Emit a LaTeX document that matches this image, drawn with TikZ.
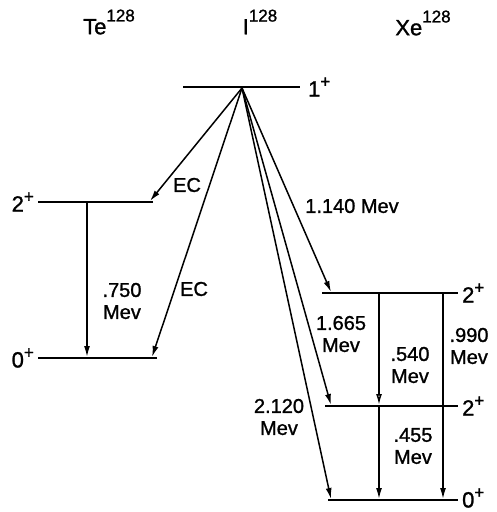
\documentclass[tikz,border=0pt]{standalone}
\usepackage{fontspec}
\setmainfont[FakeBold=1.2]{Liberation Sans}
\usepackage{tikz}
\usetikzlibrary{arrows.meta,positioning,calc}
\newcommand{\nuclide}[2]{#1\raisebox{1.1ex}{\fontsize{17}{17}\selectfont #2}}
\newcommand{\spinlab}[2]{#1\raisebox{0.8ex}{\fontsize{17}{17}\selectfont #2}}

\begin{document}
\begin{tikzpicture}[x=1pt,y=-1pt,
    lvl/.style={line width=2.3pt},
    trans/.style={line width=1.5pt,-{Latex[length=11pt,width=6pt]}},
    txt/.style={font=\fontsize{20}{22}\selectfont,align=center,inner sep=1pt},
    big/.style={font=\fontsize{22}{22}\selectfont,inner sep=0pt}]
        \useasboundingbox (0,0) rectangle (496,512);
        \node[big] (te) at (109,22) {\nuclide{Te}{128}};
        \node[big] (io) at (260,22) {\nuclide{I}{128}};
        \node[big] (xe) at (423,23) {\nuclide{Xe}{128}};
        % levels
        \draw[lvl] (183,87) -- (300,87) node[big, right=7pt] (i1) {\spinlab{1}{+}};
        \draw[lvl] (153,202) -- (38,202) node[big, left=3pt] (te2) {\spinlab{2}{+}};
        \draw[lvl] (157,358) -- (38,358) node[big, left=3pt] (te0) {\spinlab{0}{+}};
        \draw[lvl] (322,293) -- (458,293) node[big, right=3pt] (xe2a) {\spinlab{2}{+}};
        \draw[lvl] (325,406) -- (458,406) node[big, right=3pt] (xe2b) {\spinlab{2}{+}};
        \draw[lvl] (328,500) -- (458,500) node[big, right=3pt, yshift=2pt] (xe0) {\spinlab{0}{+}};
        \coordinate (src) at (242,88);
        \coordinate (ecA) at (150,201);
        \coordinate (ecB) at (152,357);
        \coordinate (xa) at (331,292);
        \coordinate (xb) at (331,405);
        \coordinate (xc) at (331,499);
        \coordinate (ttop) at (87,203);
        \coordinate (tbot) at (87,357);
        \coordinate (ma) at (379,294);
        \coordinate (mb) at (379,405);
        \coordinate (mc) at (379,407);
        \coordinate (md) at (379,499);
        \coordinate (ra) at (443,294);
        \coordinate (rb) at (443,499);
        % transitions
        \draw[trans] (src) -- (ecA);
        \draw[trans] (src) -- (ecB);
        \draw[trans] (src) -- (xa);
        \draw[trans] (src) -- (xb);
        \draw[trans] (src) -- (xc);
        \draw[trans] (ttop) -- (tbot);
        \draw[line width=1.5pt,-{Latex[open,length=11pt,width=6pt]}] (ma) -- (mb);
        \draw[trans] (mc) -- (md);
        \draw[trans] (ra) -- (rb);
        \node[txt] (ec1) at (187,185) {EC};
        \node[txt] (ec2) at (194,289) {EC};
        \node[txt] (e750) at (122,301) {.750\\Mev};
        \node[txt] (e1140) at (352,206) {1.140 Mev};
        \node[txt] (e1665) at (341,334) {1.665\\Mev};
        \node[txt] (e2120) at (279,417) {2.120\\Mev};
        \node[txt] (e540) at (410,365) {.540\\Mev};
        \node[txt] (e455) at (413,446) {.455\\Mev};
        \node[txt] (e990) at (469,346) {.990\\Mev};
      \end{tikzpicture}
\end{document}
